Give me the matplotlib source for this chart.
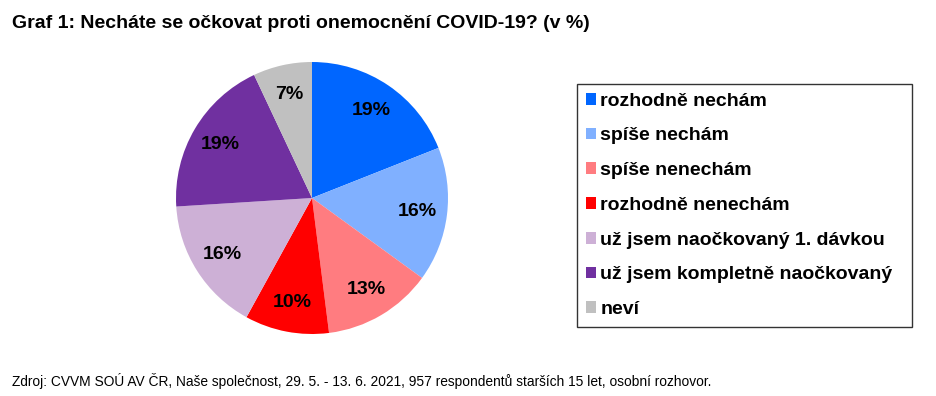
import matplotlib.pyplot as plt
from matplotlib.patches import Patch

plt.rcParams['font.family'] = ['Liberation Sans', 'DejaVu Sans']

labels = ['rozhodně nechám', 'spíše nechám', 'spíše nenechám', 'rozhodně nenechám',
          'už jsem naočkovaný 1. dávkou', 'už jsem kompletně naočkovaný', 'neví']
values = [19, 16, 13, 10, 16, 19, 7]
colors = ['#0066FF', '#80B0FF', '#FF7C80', '#FF0000', '#CDB0D6', '#7030A0', '#C0C0C0']

W, H = 936, 396
fig = plt.figure(figsize=(W / 100, H / 100), dpi=100)

# pie area: centre ~ (312, 198), radius ~135 px
cx, cy, r = 312, 198, 136
ax = fig.add_axes([(cx - r) / W, (H - cy - r) / H, 2 * r / W, 2 * r / H])
wedges, texts, autotexts = ax.pie(values, colors=colors, startangle=90, counterclock=False,
                                  autopct='%d%%', pctdistance=0.78,
                                  textprops={'fontsize': 14, 'fontweight': 'bold', 'color': 'black'})
ax.set_aspect('equal')
ax.set_xlim(-1, 1)
ax.set_ylim(-1, 1)

handles = [Patch(facecolor=c, edgecolor='none') for c in colors]
leg = fig.legend(handles, labels, loc='upper left',
                 bbox_to_anchor=(577 / W, 1 - 88 / H, (912 - 577) / W, 0.01),
                 mode='expand', frameon=True, fancybox=False, edgecolor='black',
                 prop={'size': 14, 'weight': 'bold'},
                 handlelength=0.55, handleheight=0.55, handletextpad=0.2,
                 labelspacing=0.91, borderpad=0.45, borderaxespad=0)
leg.get_frame().set_linewidth(1.0)

fig.text(12 / W, 1 - 23 / H, 'Graf 1: Necháte se očkovat proti onemocnění COVID-19? (v %)',
         fontsize=14, fontweight='bold', va='center', ha='left')
fig.text(12 / W, 1 - 381 / H,
         'Zdroj: CVVM SOÚ AV ČR, Naše společnost, 29. 5. - 13. 6. 2021, 957 respondentů starších 15 let, osobní rozhovor.',
         fontsize=9.9, va='center', ha='left')

fig.savefig('out.png', dpi=100)
